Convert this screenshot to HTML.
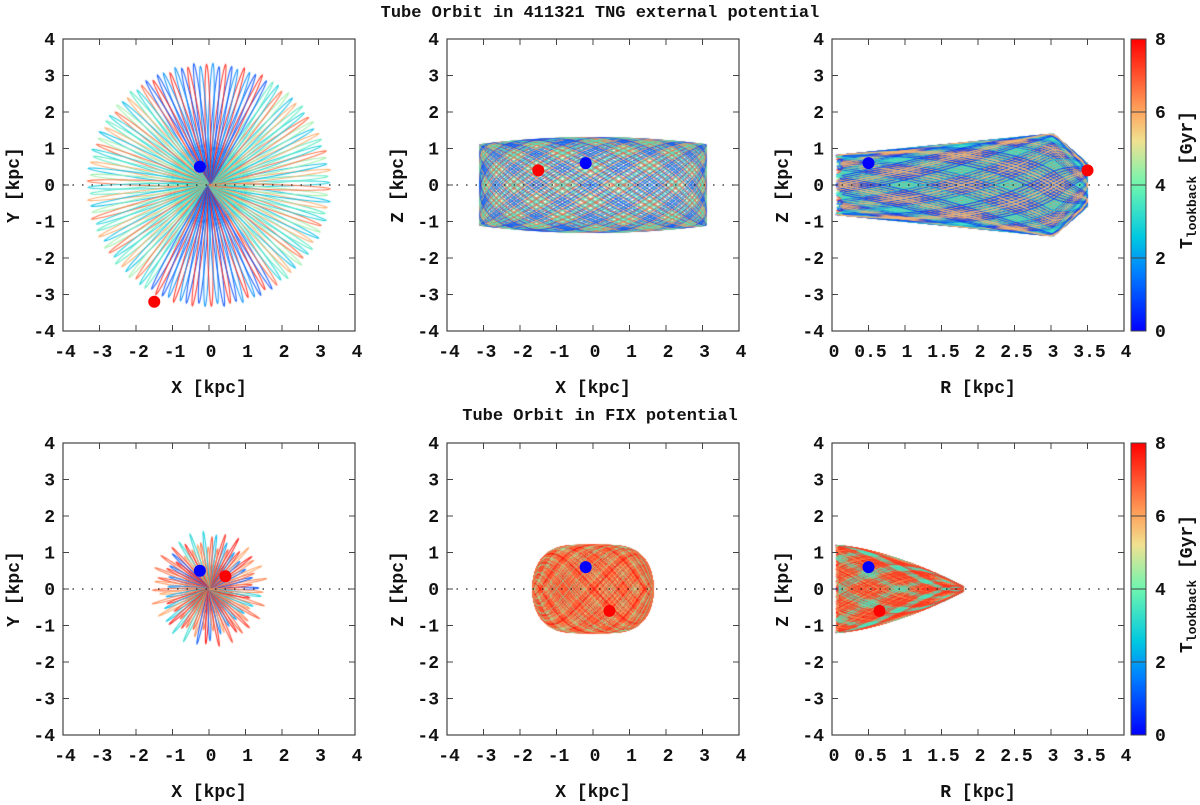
<!DOCTYPE html>
<html><head><meta charset="utf-8">
<style>
html,body{margin:0;padding:0;background:#fff;}
#wrap{position:relative;width:1200px;height:805px;overflow:hidden;}
canvas{position:absolute;left:0;top:0;}
svg{position:absolute;left:0;top:0;}
text{font-family:"Liberation Mono",monospace;font-weight:bold;fill:#111;}
</style></head>
<body>
<div id="wrap">
<canvas id="cv" width="1200" height="805"></canvas>
<svg id="sv" width="1200" height="805"></svg>
</div>
<script>
// ---- data ----
const panelTitles = ["Tube Orbit in 411321 TNG external potential","Tube Orbit in FIX potential"];
const xLabels = ["X [kpc]","X [kpc]","R [kpc]"];
const yLabels = ["Y [kpc]","Z [kpc]","Z [kpc]"];
const xTicksXY = [-4,-3,-2,-1,0,1,2,3,4];
const xTicksR = [0,0.5,1,1.5,2,2.5,3,3.5,4];
const yTicks = [-4,-3,-2,-1,0,1,2,3,4];
const cbTicks = [0,2,4,6,8];
const blueMarks = [[-0.25,0.5],[-0.2,0.6],[0.5,0.6],[-0.25,0.5],[-0.2,0.6],[0.5,0.6]];
const redMarks  = [[-1.5,-3.2],[-1.5,0.4],[3.5,0.4],[0.45,0.35],[0.45,-0.6],[0.65,-0.6]];
const orbitRmax = [3.35,1.6];
const orbitZmax = [1.3,1.2];

const colX=[63,447,832], rowY=[39,443], W=292, H=292;
const NS="http://www.w3.org/2000/svg";
const sv=document.getElementById('sv');
const ctx=document.getElementById('cv').getContext('2d');
function el(tag,attrs,parent){const e=document.createElementNS(NS,tag);for(const k in attrs)e.setAttribute(k,attrs[k]);(parent||sv).appendChild(e);return e;}
function sx(c,v,isR){const x0=colX[c];return isR? x0+v/4*W : x0+(v+4)/8*W;}
function sy(r,v){return rowY[r]+(4-v)/8*H;}
const stops=[[0,[0,0,255]],[0.2,[0,128,255]],[0.32,[0,200,225]],[0.5,[110,245,175]],[0.65,[240,225,145]],[0.76,[255,160,90]],[1,[255,0,0]]];
function cmap(f){for(let i=1;i<stops.length;i++){if(f<=stops[i][0]){const a=stops[i-1],b=stops[i];const u=(f-a[0])/(b[0]-a[0]);const c=a[1].map((v,j)=>Math.round(v+(b[1][j]-v)*u));return `rgb(${c[0]},${c[1]},${c[2]})`;}}return 'rgb(255,0,0)';}

function clip(c,r){ctx.save();ctx.beginPath();ctx.rect(colX[c],rowY[r],W,H);ctx.clip();}
function rosette(r,R,n,irr,redBias){
  clip(0,r);ctx.lineWidth=1.1;
  for(let k=0;k<n;k++){
    const ang=k*(Math.PI*2/n)+0.02;
    const vert=Math.abs(Math.sin(ang));
    let t=((k*3.7)%8)/8;
    if(redBias) t= (k%3==0)?0.1+0.3*((k*0.37)%1):0.75+0.25*((k*0.61)%1);
    else if(vert>0.85) t=(k%3==0)?0.95:0.12+0.1*(k%2);
    else t=[0.35,0.45,0.75,0.3,0.55,0.85][k%6];
    let rr=R*(1-irr*(0.5+0.5*Math.sin(k*2.3)));
    ctx.strokeStyle=cmap(t);ctx.globalAlpha=0.85;
    ctx.beginPath();
    for(let s=0;s<=40;s++){const p=s/40*Math.PI*2;const a=rr*(0.5-0.5*Math.cos(p)), b=0.07*R/3.3*Math.sin(p);
      const x=a*Math.cos(ang)-b*Math.sin(ang), y=a*Math.sin(ang)+b*Math.cos(ang);
      const px=sx(0,x), py=sy(r,y); s?ctx.lineTo(px,py):ctx.moveTo(px,py);}
    ctx.stroke();
  }
  ctx.restore();
}
rosette(0,orbitRmax[0],120,0.03,false);
rosette(1,orbitRmax[1],80,0.3,true);
function xz(c,r,R,Z,mode,loops,redBias){
  clip(c,r);ctx.lineWidth=1;ctx.globalAlpha=0.8;
  for(let k=0;k<loops;k++){
    let t=((k*5.3)%8)/8;
    if(redBias && k%3) t=0.8+0.2*((k*0.53)%1);
    ctx.strokeStyle=cmap(t);ctx.beginPath();
    const ph=k*0.7, ph2=k*1.3;
    for(let s=0;s<=200;s++){const p=s/200*Math.PI*2;
      let x=R*Math.sin(p*2+ph), z=Z*Math.sin(p*3+ph2);
      let px,py;
      if(mode==0){px=sx(c,x);py=sy(r,z*(1-0.15*(x/R)*(x/R)));}
      else if(mode==3){px=sx(c,x);py=sy(r,z*Math.sqrt(Math.max(0,1-Math.pow(Math.abs(x)/R,4))));}
      else if(mode==1){const rr=0.05+Math.abs(x);const f=rr/R;
        const env=f<0.88?0.8+0.6*f/0.88:1.4-6*(f-0.88);
        px=sx(c,rr,true);py=sy(r,Math.sin(p*3+ph2)*env);}
      else {const rr=0.05+Math.abs(x);const f=rr/R;
        const env=Z*(1-Math.pow(f,1.6)*0.9);
        px=sx(c,rr,true);py=sy(r,Math.sin(p*3+ph2)*env);}
      s?ctx.lineTo(px,py):ctx.moveTo(px,py);}
    ctx.stroke();
  }
  ctx.restore();
}
xz(1,0,3.1,orbitZmax[0],0,60,false);
xz(2,0,3.45,orbitZmax[0],1,70,false);
xz(1,1,1.65,orbitZmax[1],3,120,true);
xz(2,1,1.75,orbitZmax[1],2,140,true);

for(let r=0;r<2;r++){
  el('text',{x:600,y:r?420:17,'text-anchor':'middle','font-size':17,}).textContent=panelTitles[r];
  for(let c=0;c<3;c++){
    const g=el('g',{});
    const isR=c==2, x0=colX[c], y0=rowY[r];
    el('line',{x1:x0,x2:x0+W,y1:sy(r,0),y2:sy(r,0),stroke:'#222','stroke-width':1.3,'stroke-dasharray':'1.5,8',},g);
    const xt=isR?xTicksR:xTicksXY;
    xt.forEach(v=>{const X=sx(c,v,isR);
      el('line',{x1:X,x2:X,y1:y0+H,y2:y0+H-6,stroke:'#444'},g);el('line',{x1:X,x2:X,y1:y0,y2:y0+6,stroke:'#444'},g);
      const t=el('text',{x:X+2,y:y0+H+26,'text-anchor':'middle','font-size':18,},g);t.textContent=v;});
    yTicks.forEach(v=>{const Y=sy(r,v);
      el('line',{x1:x0,x2:x0+6,y1:Y,y2:Y,stroke:'#444'},g);el('line',{x1:x0+W,x2:x0+W-6,y1:Y,y2:Y,stroke:'#444'},g);
      const t=el('text',{x:x0-8,y:Y+6,'text-anchor':'end','font-size':18,},g);t.textContent=v;});
    el('rect',{x:x0,y:y0,width:W,height:H,fill:'none',stroke:'#444','stroke-width':1.2,},g);
    el('text',{x:x0+W/2,y:y0+H+62,'text-anchor':'middle','font-size':18,},g).textContent=xLabels[c];
    el('text',{x:0,y:0,transform:`translate(${x0-44},${y0+H/2}) rotate(-90)`,'text-anchor':'middle','font-size':18,},g).textContent=yLabels[c];
    const i=r*3+c;
    el('circle',{cx:sx(c,blueMarks[i][0],isR),cy:sy(r,blueMarks[i][1]),r:6,fill:'#0000ff',},g);
    el('circle',{cx:sx(c,redMarks[i][0],isR),cy:sy(r,redMarks[i][1]),r:6,fill:'#ff0000',},g);
  }
  const cb=el('g',{});
  const gid='cbg'+r;const lg=el('linearGradient',{id:gid,x1:0,y1:1,x2:0,y2:0},el('defs',{},cb));
  stops.forEach(s=>el('stop',{offset:s[0],'stop-color':cmap(s[0])},lg));
  const y0=rowY[r];
  el('rect',{x:1131,y:y0,width:15,height:H,fill:`url(#${gid})`,stroke:'#444','stroke-width':1},cb);
  cbTicks.forEach(v=>{const Y=y0+H-(v/8)*H;
    el('line',{x1:1131,x2:1146,y1:Y,y2:Y,stroke:'#444'},cb);
    el('text',{x:1155,y:Y+6,'font-size':18,},cb).textContent=v;});
  const lt=el('text',{x:0,y:0,transform:`translate(${1192},${y0+H/2-5}) rotate(-90)`,'text-anchor':'middle','font-size':18,},cb);
  lt.innerHTML='T<tspan font-size="13" dy="4">lookback</tspan><tspan dy="-4"> [Gyr]</tspan>';
}
</script>
</body></html>
